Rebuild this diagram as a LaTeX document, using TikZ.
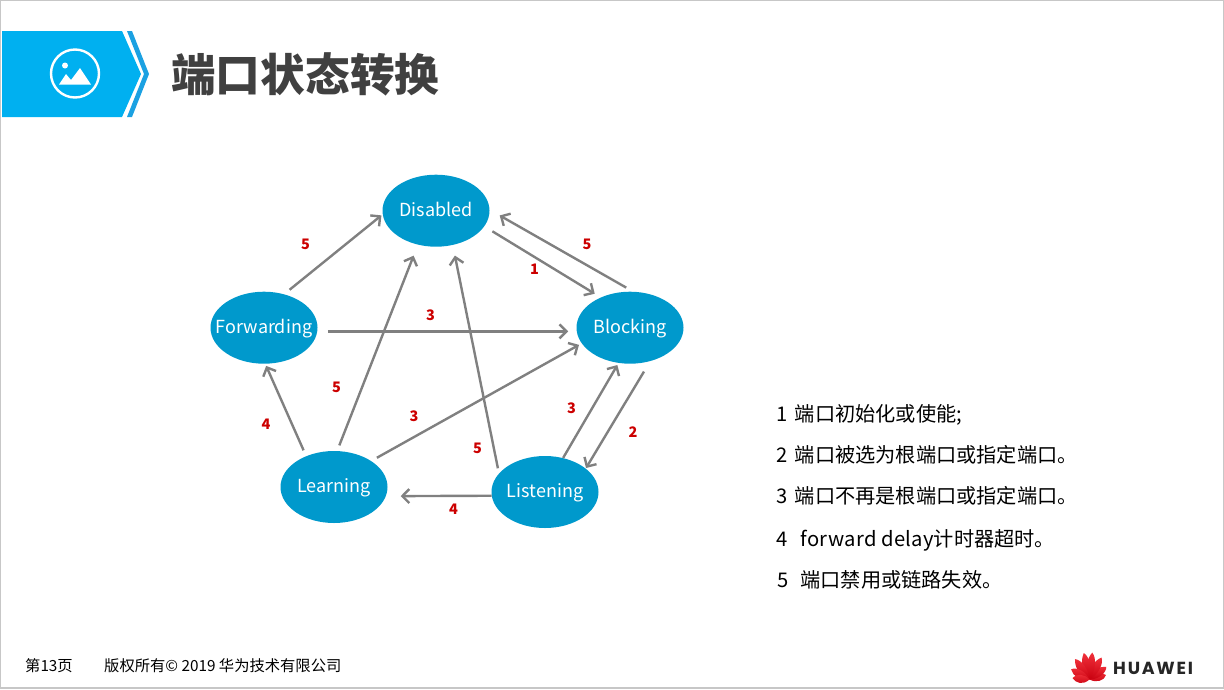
\documentclass[tikz,border=0pt]{standalone}
\usepackage{fontspec}
\setmainfont{Noto Sans CJK SC}
\newfontfamily\brandfont{Poppins}[LetterSpace=10]
\usetikzlibrary{arrows.meta, shapes.geometric}

\definecolor{headblue}{HTML}{00B0F0}
\definecolor{edgeblue}{HTML}{1BA1E2}
\definecolor{stateblue}{HTML}{0099CC}
\definecolor{titlegray}{HTML}{404040}
\definecolor{logotop}{HTML}{F0303A}
\definecolor{logobot}{HTML}{C8000F}

\tikzset{
  state/.style={ellipse, fill=stateblue, text=white, inner sep=-25pt, minimum width=107pt, minimum height=72pt, text height=16pt, text depth=5pt, font=\fontsize{18}{20}\selectfont},
  trans/.style={draw=gray, line width=2.4pt, -{Straight Barb[length=7pt,width=14pt]}},
  lbl/.style={text=red!80!black, font=\fontsize{14.5}{16}\selectfont\bfseries, inner sep=0pt},
  legend/.style={anchor=base west, inner sep=0pt, font=\fontsize{20.2}{22}\selectfont},
  foot/.style={anchor=base west, inner sep=0pt, font=\fontsize{15.3}{16}\selectfont}
}

\begin{document}
\begin{tikzpicture}[x=1pt,y=-1pt]
\useasboundingbox (0,0) rectangle (1224,689);

% Slide frame
\draw[black!22, line width=1.2pt] (0.5,0.5) rectangle (1223.5,688);

% Header band
\fill[headblue] (2,31) -- (122,31) -- (141,74) -- (122,117) -- (2,117) -- cycle;
\fill[edgeblue] (127,31) -- (132,31) -- (149,74) -- (132,117) -- (127,117) -- (144,74) -- cycle;

% Header icon
\draw[white, line width=2.4pt] (75,73.5) circle[radius=24];
\fill[white] (65,65.5) circle[radius=3];
\fill[white] (59,84.5) -- (66,74) -- (71,80) -- (80,68) -- (91,84.5) -- cycle;

% Title
\node[anchor=west, inner sep=0pt, text=titlegray, font=\fontsize{44.7}{50}\selectfont\bfseries] (title) at (171,74.5) {端口状态转换};

% States
\node[state] (disabled) at (436,210.7) {Disabled};
\node[state] (forwarding) at (264,327.7) {Forwarding};
\node[state] (blocking) at (630,327.7) {Blocking};
\node[state] (learning) at (334,487) {Learning};
\node[state] (listening) at (545,492) {Listening};

% Transitions
\draw[trans, shorten <=7pt, shorten >=1.5pt] (forwarding.59) -- (disabled.184.3);
\draw[trans, shorten <=9.4pt, shorten >=7pt] (disabled.-18.5) -- (blocking.134.7);
\draw[trans, shorten <=8pt, shorten >=11.5pt] (blocking.85.3) -- (disabled.1.9);
\draw[trans, shorten <=10.4pt, shorten >=8.4pt] (forwarding.-4.3) -- (blocking.184.3);
\draw[trans, shorten <=6.3pt, shorten >=2.2pt] (learning.132.3) -- (forwarding.-88.2);
\draw[trans, shorten <=5.9pt, shorten >=11.7pt] (learning.85.5) -- (disabled.-118.1);
\draw[trans, shorten <=6.5pt, shorten >=3pt] (learning.35.4) -- (blocking.198.1);
\draw[trans, shorten <=5.2pt, shorten >=10.7pt] (listening.158.7) -- (disabled.-64.7);
\draw[trans, shorten >=2.3pt] (listening.62.6) -- (blocking.-108.6);
\draw[trans, shorten <=12pt, shorten >=0.5pt] (blocking.-59.6) -- (listening.30.7);
\draw[trans, shorten >=14.7pt] (listening.184.3) -- (learning.-10);

% Transition numbers
\node[lbl] (n1) at (305.5,244.5) {5};
\node[lbl] (n2) at (534.5,269.5) {1};
\node[lbl] (n3) at (587,244.5) {5};
\node[lbl] (n4) at (430.5,315.5) {3};
\node[lbl] (n5) at (336.5,387.5) {5};
\node[lbl] (n6) at (414,416.5) {3};
\node[lbl] (n7) at (571.5,408.5) {3};
\node[lbl] (n8) at (477.5,448.5) {5};
\node[lbl] (n9) at (266,424.5) {4};
\node[lbl] (n10) at (633,432.5) {2};
\node[lbl] (n11) at (453.5,509.5) {4};

% Legend
\node[legend] (l1) at (776,421.5) {1\hspace{7.5pt}端口初始化或使能;};
\node[legend] (l2) at (776,462.5) {2\hspace{7.5pt}端口被选为根端口或指定端口。};
\node[legend] (l3) at (776,503.5) {3\hspace{7.5pt}端口不再是根端口或指定端口。};
\node[legend] (l4) at (776,546) {4\hspace{13pt}{\addfontfeature{LetterSpace=1.5}forward delay}计时器超时。};
\node[legend] (l5) at (777,587.5) {5\hspace{12pt}端口禁用或链路失效。};

% Footer
\node[foot] (page) at (25,671.5) {第13页};
\node[foot] (copy) at (104,671.5) {版权所有© 2019 华为技术有限公司};

% Logo
\foreach \ang/\len in {-80/17, -57/21, -32/25, -9/27, 9/27, 32/25, 57/21, 80/17} {
  \begin{scope}[shift={(1089.5,679.5)}, rotate=\ang, yscale=\len/27]
    \shade[top color=logotop, bottom color=logobot] (0,0) .. controls (-7,-9) and (-6,-20) .. (-1.5,-27) .. controls (3.5,-23) and (5,-10) .. (0,0);
  \end{scope}
}
\node[anchor=west, inner sep=0pt, text=black!85, font=\brandfont\fontsize{17.5}{20}\selectfont\bfseries] (brand) at (1113,668.5) {HUAWEI};

\end{tikzpicture}
\end{document}
